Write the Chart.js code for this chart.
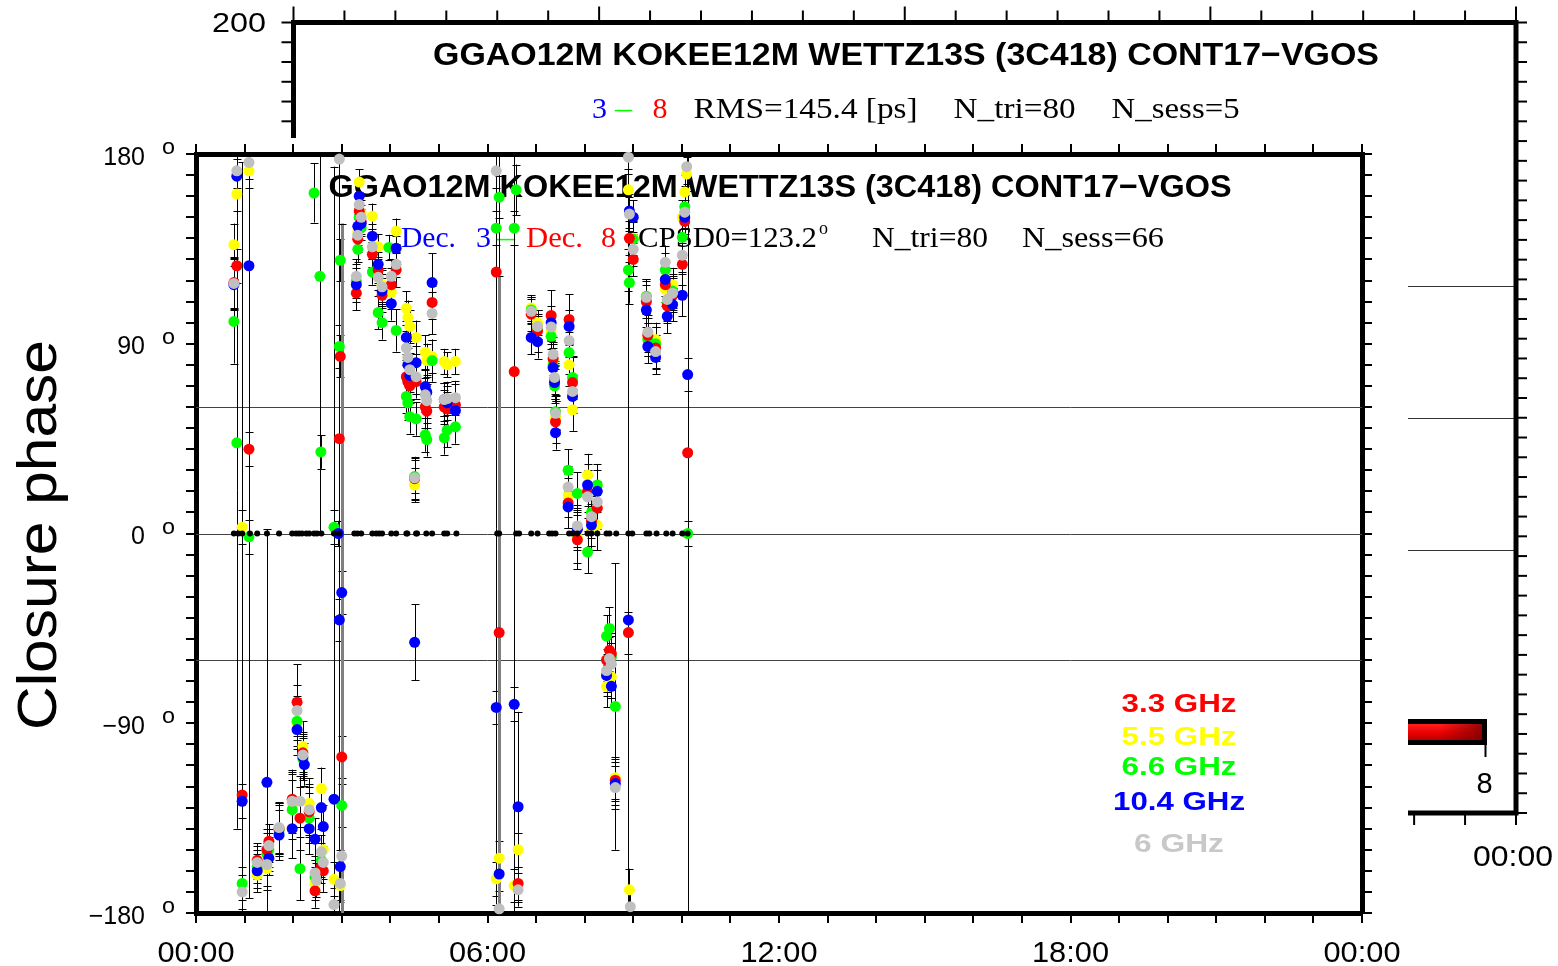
<!DOCTYPE html>
<html><head><meta charset="utf-8">
<script src="https://cdn.jsdelivr.net/npm/chart.js@4"></script>
<style>html,body{margin:0;padding:0;background:#fff}canvas{display:block}</style>
</head><body>
<canvas id="c" width="1558" height="966"></canvas>
<script>
// ---------- DATA: [time (h), closure phase (deg), error (deg)] ----------
const red33 = [
[0.78,119,12],[0.84,127,8],[0.95,-124,300],[1.09,40,8],[1.26,-155,8],[1.46,-150,10],[1.50,-146,8],[1.71,-140,12],[1.98,-126,14],[2.08,-80,18],[2.14,-135,15],[2.20,-104,10],[2.33,-132,12],[2.45,-169.5,8],[2.58,-158,8],[2.62,-160,10],
[2.95,45,300],[2.97,84,10],[3.00,-106,10],
[3.30,114,8],[3.33,139.6,6],[3.36,153,6],[3.40,148,6],[3.63,132.4,6],[3.75,125,6],[3.83,113,8],[4.02,118,8],[4.12,125,8],[4.33,74.4,8],[4.36,72,8],[4.40,70,8],[4.50,26,10],[4.53,72,8],[4.72,60,10],[4.75,58,8],[4.86,109.6,8],[5.11,60,8],[5.17,59,8],[5.34,61,10],
[6.18,124,300],[6.24,-47,300],[6.55,76.8,300],[6.63,-166,8],
[6.90,104,8],[7.03,96,10],[7.31,103.4,12],[7.35,83,8],[7.38,73,8],[7.40,53,10],[7.66,14.5,12],[7.68,101.5,12],[7.75,71.6,12],[7.85,-3,14],[8.06,20,10],[8.14,6,12],[8.26,12,10],
[8.45,-60,10],[8.51,-55.4,10],[8.55,-57,10],[8.63,-117,10],
[8.90,-47,10],[8.92,140,8],[9.00,130,8],[9.27,110,8],[9.30,94,8],[9.46,88,10],[9.66,118,8],[9.70,108,8],[9.81,113,8],[10.01,127.7,10],[10.06,148,8],[10.12,38.3,300]
];
const yellow55 = [
[0.78,137,10],[0.84,161,8],[0.95,3,8],[1.09,172,8],[1.26,-162,8],[1.46,-159,10],[1.50,-152,8],[1.71,-140,12],[1.98,-128,14],[2.08,-90,12],[2.20,-101,12],[2.33,-128,12],[2.45,-166,8],[2.58,-121,10],[2.62,-150,10],
[2.84,-164,8],[2.97,-167,8],
[3.33,143,6],[3.36,166.7,6],[3.40,152,6],[3.63,150.5,6],[3.75,136,6],[3.83,118,8],[4.02,114.4,8],[4.12,143.4,6],[4.33,106.8,8],[4.36,102.5,8],[4.40,98.2,8],[4.50,23,8],[4.53,93,8],[4.72,86,8],[4.75,82,8],[4.86,84,8],[5.11,81.6,6],[5.17,80,6],[5.34,81.6,6],
[6.18,-163.8,8],[6.24,-154,8],[6.55,-167,8],[6.63,-150,8],
[6.90,107,6],[7.03,100,6],[7.31,96,6],[7.35,82,8],[7.38,72,8],[7.40,55,8],[7.66,18,10],[7.68,80,10],[7.75,58.7,10],[7.85,-2,12],[8.06,27.8,10],[8.14,2,10],[8.26,4,12],
[8.45,-72.5,10],[8.55,-68,10],[8.63,-115.8,10],
[8.90,163,10],[8.92,-169,10],[9.00,140,8],[9.27,112.5,8],[9.30,92,8],[9.46,92,8],[9.66,115.8,8],[9.70,110,8],[9.81,118,8],[10.01,150,8],[10.06,162,8],[10.10,170.5,8]
];
const green66 = [
[0.78,100.6,20],[0.84,43,183],[0.95,-166,8],[1.09,-1.6,8],[1.26,-158,8],[1.46,-152,10],[1.50,-150,8],[1.71,-141,12],[1.98,-131,14],[2.08,-89,12],[2.14,-159,15],[2.20,-107,10],[2.33,-135,12],[2.43,161.5,14],[2.45,-163,8],[2.55,122,122],[2.57,38.7,8],[2.58,-155,8],
[2.84,3,8],[2.95,88.7,10],[2.97,129.6,10],[3.00,-129,10],
[3.30,119.6,8],[3.33,134.8,6],[3.36,150,6],[3.40,145,6],[3.63,124,6],[3.75,104.8,8],[3.83,100,8],[3.97,135.7,6],[4.12,96.3,10],[4.33,65,8],[4.36,62,8],[4.40,55.4,8],[4.50,27,8],[4.53,54.4,8],[4.72,46.8,8],[4.75,44.5,8],[4.86,82,10],[5.11,45.4,8],[5.17,49,8],[5.34,50.6,8],
[6.18,144.8,8],[6.24,159.5,10],[6.55,144.8,8],[6.59,163,12],
[6.90,106,6],[7.03,97,6],[7.31,93.5,6],[7.35,80,8],[7.38,70,8],[7.40,57.8,8],[7.66,30,10],[7.68,85.8,10],[7.75,74,10],[7.85,19,10],[8.06,-8.8,10],[8.14,10,10],[8.26,23,10],
[8.45,-48.7,10],[8.51,-45,10],[8.55,-58.7,10],[8.63,-82,68],
[8.90,125,10],[8.92,119,10],[9.00,139.6,8],[9.27,112.5,8],[9.30,92,8],[9.46,90,8],[9.66,125,8],[9.70,109,8],[9.81,115,8],[10.01,140.5,10],[10.06,155,10],[10.12,0,6]
];
const blue104 = [
[0.78,118,12],[0.84,169.5,8],[0.95,-127,8],[1.09,127,300],[1.26,-160,8],[1.46,-118,120],[1.50,-154,8],[1.71,-143,12],[1.98,-140,14],[2.08,-93,12],[2.20,-106,10],[2.23,-109.6,10],[2.33,-140,12],[2.45,-145,10],[2.58,-130,10],[2.62,-139,10],
[2.84,-126,300],[2.93,0,6],[2.95,-41,10],[2.97,-158,8],[3.00,-28,10],
[3.30,118,8],[3.33,145.7,6],[3.36,160,6],[3.40,147,6],[3.63,141,6],[3.75,127.7,6],[3.83,115,8],[4.02,109,8],[4.12,135.3,6],[4.33,93,8],[4.36,80,8],[4.40,75,8],[4.50,-51.6,18],[4.53,81,8],[4.72,69.7,8],[4.75,67,8],[4.86,119,14],[5.11,63.5,8],[5.17,62,8],[5.34,58.3,8],
[6.18,-82.5,8],[6.24,-161.5,8],[6.55,-81,8],[6.63,-129.6,45],
[6.90,93,8],[7.03,91,8],[7.31,100,8],[7.35,78.7,8],[7.38,71.6,8],[7.40,47.8,8],[7.66,12.6,10],[7.68,98.2,8],[7.75,65,8],[7.85,2,10],[8.06,23,10],[8.14,4,10],[8.26,20,10],
[8.45,-67.3,10],[8.55,-72.5,10],[8.63,-118.6,10],
[8.90,-41,300],[8.92,153,8],[9.00,150,8],[9.27,106,8],[9.30,88.7,8],[9.46,83.5,8],[9.66,120.5,8],[9.70,103,8],[9.81,108.6,8],[10.01,113,10],[10.06,150,8],[10.12,75.4,8]
];
const gray6 = [
[0.78,118.6,12],[0.84,172,8],[0.95,-170,8],[1.09,176,8],[1.26,-156,8],[1.46,-157,10],[1.50,-148,8],[1.71,-139.5,12],[1.98,-127,14],[2.08,-84,12],[2.14,-127,12],[2.20,-105,10],[2.33,-131,12],[2.45,-161,8],[2.48,-164.5,8],[2.58,-151,8],[2.62,-156,8],
[2.84,-176,8],[2.95,177.6,8],[2.97,-166,8],[3.00,-153,300],
[3.30,122,8],[3.33,141.5,6],[3.36,156,6],[3.40,150,6],[3.63,136,6],[3.75,121.5,6],[3.83,117,8],[4.02,122,8],[4.12,127.7,6],[4.33,88,8],[4.36,83.5,8],[4.40,77.7,8],[4.50,26.4,10],[4.53,74.4,8],[4.72,65.8,8],[4.75,63,8],[4.86,104.4,10],[5.11,63.5,8],[5.17,64,8],[5.34,64.4,8],
[6.18,172,8],[6.24,-178,300],[6.63,-169,8],
[6.90,105.4,6],[7.03,98.2,6],[7.31,98,6],[7.35,85,8],[7.38,74,8],[7.40,57,8],[7.66,22,10],[7.68,91.5,8],[7.75,67.4,8],[7.85,3.6,10],[8.06,17.4,10],[8.14,8,10],[8.26,15,10],
[8.45,-65,10],[8.51,-59.3,10],[8.55,-62,10],[8.63,-120.5,10],
[8.90,178.5,8],[8.92,151.5,8],[8.94,-177,8],[9.00,134.8,8],[9.27,112,8],[9.30,95.5,8],[9.46,86.3,8],[9.66,128.6,8],[9.70,111,8],[9.81,114,8],[10.01,132,8],[10.06,152.4,8],[10.10,174,8]
];
// reference (zero) points
const zeroT = [0.78,0.87,0.95,1.11,1.26,1.46,1.71,1.98,2.06,2.12,2.18,2.27,2.33,2.43,2.49,2.58,2.84,2.95,3.26,3.32,3.40,3.63,3.71,3.77,3.83,4.02,4.12,4.33,4.35,4.53,4.55,4.74,4.86,5.11,5.17,5.36,6.20,6.24,6.59,6.65,6.90,7.03,7.27,7.33,7.40,7.68,7.75,7.85,8.06,8.14,8.26,8.45,8.51,8.65,8.90,8.98,9.27,9.33,9.48,9.68,9.81,10.01,10.12];
const zeroV = 0;

const seriesNames  = ['3.3 GHz','5.5 GHz','6.6 GHz','10.4 GHz','6 GHz'];
const seriesColors = ['#ff0000','#ffff00','#00ff00','#0000ff','#c0c0c0'];
const seriesOrder  = [3,5,4,2,1];
const allSeries    = [red33, yellow55, green66, blue104, gray6];

const xTickValues = [0,6,12,18,24];
const xTickText   = ['00:00','06:00','12:00','18:00','00:00'];
const yTickValues = [180,90,0,-90,-180];
const yTickText   = ['180','90','0','\u221290','\u2212180'];
const refLines    = [60,0,-60];

const titleText = 'GGAO12M KOKEE12M WETTZ13S (3C418) CONT17\u2212VGOS';

// ---------- helpers ----------
function txt(ctx, s, x, y, font, color, align, w) {
  ctx.save();
  ctx.font = font; ctx.fillStyle = color; ctx.textBaseline = 'alphabetic'; ctx.textAlign = 'left';
  const m = ctx.measureText(s).width;
  const sx = w ? w / m : 1;
  const dw = m * sx;
  const left = align === 'center' ? x - dw / 2 : (align === 'right' ? x - dw : x);
  ctx.translate(left, y); ctx.scale(sx, 1);
  ctx.fillText(s, 0, 0);
  ctx.restore();
  return left + dw;
}
function line(ctx, x1, y1, x2, y2, w, c) {
  ctx.beginPath(); ctx.lineWidth = w; ctx.strokeStyle = c; ctx.moveTo(x1, y1); ctx.lineTo(x2, y2); ctx.stroke();
}
const SANS = '"Liberation Sans", Arial, sans-serif';
const SERIF = '"Liberation Serif", "Times New Roman", serif';

// ---------- background (partly hidden) panel ----------
const bgPanel = {
  id: 'bgPanel',
  beforeDraw(chart) {
    const ctx = chart.ctx, W = chart.width, H = chart.height;
    ctx.save();
    ctx.fillStyle = '#fff'; ctx.fillRect(0, 0, W, H);
    const L = 293.5, R = 1516, T = 22.5, B = 813;
    [286, 418, 550].forEach(yy => line(ctx, L, yy + 0.5, R, yy + 0.5, 1, '#333'));
    ctx.lineWidth = 5; ctx.strokeStyle = '#000'; ctx.strokeRect(L, T, R - L, B - T);
    for (let k = 0; k <= 24; k++) {
      const xx = L + k * (R - L) / 24;
      line(ctx, xx, T, xx, T - (k % 6 === 0 ? 16 : 12), 2, '#000');
      line(ctx, xx, B, xx, B + 12, 2, '#000');
    }
    for (let k = 0; k <= 40; k++) {
      const yy = T + k * (B - T) / 40;
      line(ctx, L, yy, L - 12, yy, 2, '#000');
      line(ctx, R, yy, R + 11, yy, 2, '#000');
    }
    txt(ctx, '200', 266, 32, '28px ' + SANS, '#000', 'right', 54);
    txt(ctx, titleText, 906, 65, 'bold 32px ' + SANS, '#000', 'center', 946);
    const f2 = '30px ' + SERIF;
    txt(ctx, '3', 592, 118, f2, '#0000ff', 'left');
    txt(ctx, '\u2013', 615, 118, f2, '#00ff00', 'left', 17);
    txt(ctx, '8', 652.5, 118, f2, '#ff0000', 'left');
    txt(ctx, 'RMS=145.4 [ps]', 693.6, 118, f2, '#000', 'left', 224);
    txt(ctx, 'N_tri=80', 953.6, 118, f2, '#000', 'left', 122);
    txt(ctx, 'N_sess=5', 1111.6, 118, f2, '#000', 'left', 128);
    const g = ctx.createLinearGradient(0, 724, 0, 741);
    g.addColorStop(0, '#ff2020'); g.addColorStop(0.5, '#ee0000'); g.addColorStop(1, '#b00000');
    ctx.fillStyle = '#000'; ctx.fillRect(1380, 719, 107, 26);
    ctx.fillStyle = g; ctx.fillRect(1380, 724, 102, 16);
    const g2 = ctx.createLinearGradient(1440, 0, 1483, 0);
    g2.addColorStop(0, 'rgba(120,0,0,0)'); g2.addColorStop(1, 'rgba(120,0,0,0.8)');
    ctx.fillStyle = g2; ctx.fillRect(1440, 724, 42, 16);
    line(ctx, 1485.5, 745, 1485.5, 757, 2, '#000');
    txt(ctx, '8', 1484.5, 793, '29px ' + SANS, '#000', 'center');
    txt(ctx, '00:00', 1513, 866, '30px ' + SANS, '#000', 'center', 80);
    ctx.fillStyle = '#fff'; ctx.fillRect(0, 138, 1408, H - 138);
    ctx.restore();
  }
};

// ---------- main panel decorations ----------
const mainDeco = {
  id: 'mainDeco',
  beforeDatasetsDraw(chart) {
    const ctx = chart.ctx, a = chart.chartArea, xs = chart.scales.x, ys = chart.scales.y;
    ctx.save();
    ctx.beginPath(); ctx.rect(a.left, a.top, a.right - a.left, a.bottom - a.top); ctx.clip();
    refLines.forEach(v => { const py = Math.round(ys.getPixelForValue(v)) + 0.5; line(ctx, a.left, py, a.right, py, 1, '#444'); });
    txt(ctx, titleText, 780, 197, 'bold 32px ' + SANS, '#000', 'center', 903);
    const f2 = '30px ' + SERIF;
    txt(ctx, 'Dec.', 401, 247, f2, '#0000ff', 'left', 55);
    txt(ctx, '3', 476, 247, f2, '#0000ff', 'left');
    txt(ctx, '\u2013', 497, 247, f2, '#00ff00', 'left', 18);
    txt(ctx, 'Dec.', 526, 247, f2, '#ff0000', 'left', 57);
    txt(ctx, '8', 601, 247, f2, '#ff0000', 'left');
    const e = txt(ctx, 'CPSD0=123.2', 638, 247, f2, '#000', 'left', 179);
    txt(ctx, 'o', e + 2, 234, '18px ' + SERIF, '#000', 'left');
    txt(ctx, 'N_tri=80', 872, 247, f2, '#000', 'left', 116);
    txt(ctx, 'N_sess=66', 1022, 247, f2, '#000', 'left', 142);
    allSeries.forEach((arr, si) => {
      arr.forEach(([t, v, err]) => {
        const px = Math.round(xs.getPixelForValue(t)) + 0.5;
        const y1 = ys.getPixelForValue(v + err), y2 = ys.getPixelForValue(v - err);
        if (si === 4 && err >= 100) line(ctx, px, y1, px, y2, 3, '#808080');
        else line(ctx, px, y1, px, y2, 1, '#000');
        if (v + err <= 180) line(ctx, px - 4, Math.round(y1) + 0.5, px + 4, Math.round(y1) + 0.5, 1, '#000');
        if (v - err >= -180) line(ctx, px - 4, Math.round(y2) + 0.5, px + 4, Math.round(y2) + 0.5, 1, '#000');
      });
    });
    ctx.restore();
  },
  afterDraw(chart) {
    const ctx = chart.ctx, xs = chart.scales.x, ys = chart.scales.y;
    ctx.save();
    yTickValues.forEach((v, i) => {
      const py = ys.getPixelForValue(v);
      txt(ctx, yTickText[i], 145, py + 10.5, '25px ' + SANS, '#000', 'right');
      txt(ctx, 'o', 162, py, '22px ' + SANS, '#000', 'left', 13);
    });
    xTickValues.forEach((v, i) => {
      txt(ctx, xTickText[i], xs.getPixelForValue(v), 962, '29px ' + SANS, '#000', 'center', 77);
    });
    ctx.save();
    ctx.translate(56, 535); ctx.rotate(-Math.PI / 2);
    txt(ctx, 'Closure phase', 0, 0, '56px ' + SANS, '#000', 'center', 390);
    ctx.restore();
    const lb = [712, 745, 775, 810, 852];
    const lw = [115, 115, 115, 132, 90];
    const lc = ['#ff0000', '#ffff00', '#00ff00', '#0000ff', '#c8c8c8'];
    seriesNames.forEach((n, i) => txt(ctx, n, 1179, lb[i], 'bold 26px ' + SANS, lc[i], 'center', lw[i]));
    ctx.restore();
  }
};

const datasets = allSeries.map((arr, i) => ({
  label: seriesNames[i],
  data: arr.map(p => ({ x: p[0], y: p[1] })),
  backgroundColor: seriesColors[i],
  borderWidth: 0, pointRadius: 5.5, pointHoverRadius: 5.5,
  order: seriesOrder[i], clip: false
}));
datasets.push({
  label: 'zero',
  data: zeroT.map(t => ({ x: t, y: zeroV })),
  backgroundColor: '#000', borderWidth: 0, pointRadius: 3, order: 0, clip: false
});

const axisCommon = (min, max, step) => ({
  type: 'linear', min, max,
  ticks: { stepSize: step, display: false, autoSkip: false, maxTicksLimit: 100 },
  grid: { drawOnChartArea: false, drawTicks: true, tickLength: 10, color: '#000', lineWidth: 2 },
  border: { display: true, color: '#000', width: 5 }
});

new Chart(document.getElementById('c'), {
  type: 'scatter',
  data: { datasets },
  options: {
    responsive: false, animation: false, devicePixelRatio: 1, events: [],
    layout: { padding: 0 },
    plugins: { legend: { display: false }, tooltip: { enabled: false } },
    scales: {
      x:  Object.assign(axisCommon(0, 24, 1), { position: 'bottom', afterFit: s => { s.height = 53; } }),
      x2: Object.assign(axisCommon(0, 24, 1), { position: 'top', afterFit: s => { s.height = 154; } }),
      y:  Object.assign(axisCommon(-180, 180, 10), { position: 'left', afterFit: s => { s.width = 196; } }),
      y2: Object.assign(axisCommon(-180, 180, 10), { position: 'right', afterFit: s => { s.width = 196; } })
    }
  },
  plugins: [bgPanel, mainDeco]
});
</script>
</body></html>
